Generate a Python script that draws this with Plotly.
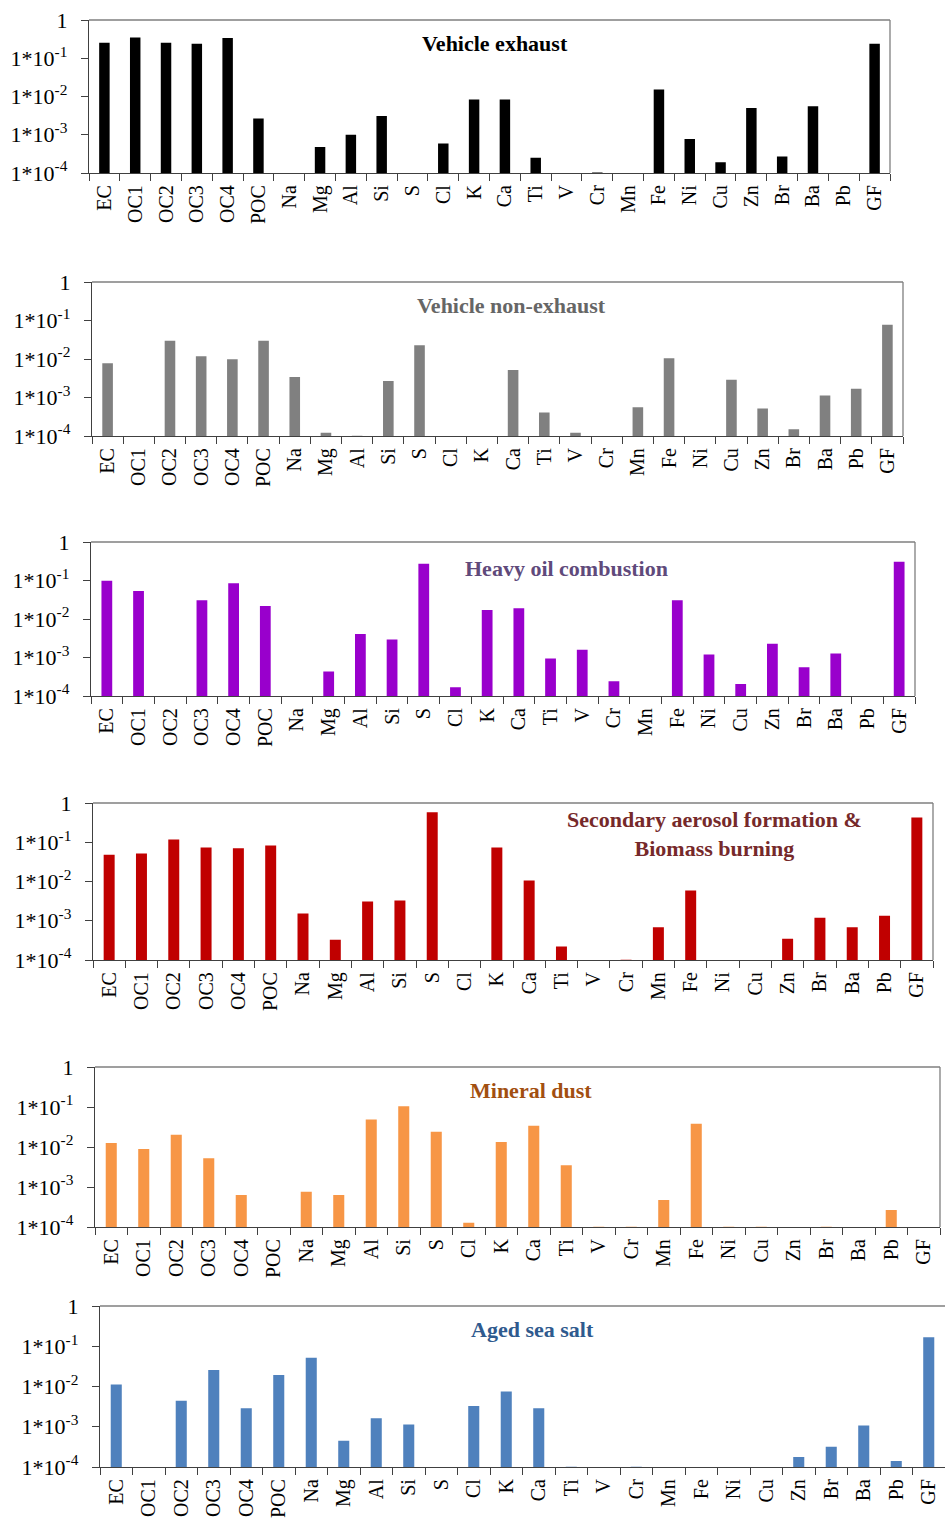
import plotly.graph_objects as go

# Species on the x axis (same for every source profile)
species = ["EC", "OC1", "OC2", "OC3", "OC4", "POC", "Na", "Mg", "Al", "Si", "S", "Cl",
           "K", "Ca", "Ti", "V", "Cr", "Mn", "Fe", "Ni", "Cu", "Zn", "Br", "Ba", "Pb", "GF"]

# Source profile values (mass fraction); None = not present
vehicle_exhaust = [0.255, 0.35, 0.255, 0.24, 0.34, 0.00267, None, 4.8e-4, 1.0e-3, 3.1e-3,
                   None, 5.9e-4, 8.4e-3, 8.4e-3, 2.5e-4, None, 1.03e-4, None, 0.0153, 7.7e-4,
                   1.9e-4, 5.0e-3, 2.7e-4, 5.6e-3, None, 0.24]
vehicle_non_exhaust = [7.7e-3, None, 0.030, 0.0117, 9.8e-3, 0.030, 3.4e-3, 1.22e-4, 1.02e-4, 2.7e-3,
                       0.0226, None, None, 5.2e-3, 4.1e-4, 1.22e-4, None, 5.6e-4, 0.0104, None,
                       2.9e-3, 5.2e-4, 1.5e-4, 1.12e-3, 1.7e-3, 0.078]
heavy_oil = [0.098, 0.053, None, 0.0307, 0.085, 0.0219, None, 4.3e-4, 4.1e-3, 2.95e-3,
             0.272, 1.7e-4, 0.0172, 0.019, 9.4e-4, 1.6e-3, 2.4e-4, None, 0.0307, 1.2e-3,
             2.06e-4, 2.27e-3, 5.6e-4, 1.27e-3, None, 0.307]
secondary_biomass = [0.048, 0.052, 0.118, 0.074, 0.070, 0.083, 1.52e-3, 3.3e-4, 3.09e-3, 3.27e-3,
                     0.578, None, 0.074, 0.0106, 2.2e-4, None, 1.02e-4, 6.8e-4, 5.9e-3, None,
                     None, 3.5e-4, 1.2e-3, 6.8e-4, 1.35e-3, 0.43]
mineral_dust = [0.0126, 8.9e-3, 0.0203, 5.2e-3, 6.3e-4, None, 7.6e-4, 6.3e-4, 0.049, 0.104,
                0.0242, 1.28e-4, 0.0133, 0.034, 3.5e-3, 1.02e-4, 1.02e-4, 4.7e-4, 0.038, 1.02e-4,
                1.02e-4, None, 1.02e-4, None, 2.66e-4, None]
aged_sea_salt = [0.0112, None, 4.4e-3, 0.0256, 2.9e-3, 0.0192, 0.052, 4.5e-4, 1.62e-3, 1.14e-3,
                 None, 3.3e-3, 7.5e-3, 2.9e-3, 1.02e-4, None, 1.02e-4, None, None, None,
                 None, 1.78e-4, 3.2e-4, 1.08e-3, 1.41e-4, 0.168]

# Log-axis ticks
tick_vals = [1e-4, 1e-3, 1e-2, 1e-1, 1]
tick_text = ["1*10<sup>-4</sup>", "1*10<sup>-3</sup>", "1*10<sup>-2</sup>",
             "1*10<sup>-1</sup>", "1"]

W, H = 945, 1524
FONT = "Liberation Serif"

panels = [
    # values, bar colour, title, title colour, plot box (px: left, right, top, bottom), title centre (px)
    (vehicle_exhaust, "#000000", "Vehicle exhaust", "#000000", (89, 890, 20, 173), (495, 43)),
    (vehicle_non_exhaust, "#808080", "Vehicle non-exhaust", "#666666", (92, 903, 282, 436), (511, 305)),
    (heavy_oil, "#9900CC", "Heavy oil combustion", "#604A7B", (91, 915, 542, 696), (566, 568)),
    (secondary_biomass, "#C00000", "Secondary aerosol formation &amp;<br>Biomass burning", "#76292A",
     (93, 933, 803, 960), (714, 834)),
    (mineral_dust, "#F79646", "Mineral dust", "#A24F10", (95, 940, 1067, 1227), (531, 1090)),
    (aged_sea_salt, "#4F81BD", "Aged sea salt", "#2F5A8E", (100, 945, 1306, 1467), (532, 1329)),
]

fig = go.Figure()
layout = dict(
    width=W, height=H, margin=dict(l=0, r=0, t=0, b=0, autoexpand=False),
    paper_bgcolor="white", plot_bgcolor="white", showlegend=False,
    font=dict(family=FONT, size=20, color="#000000"),
)
annotations = []
shapes = []

for i, (vals, color, title, tcolor, box, tpos) in enumerate(panels, start=1):
    left, right, top, bottom = box
    xa = "x" if i == 1 else f"x{i}"
    ya = "y" if i == 1 else f"y{i}"
    fig.add_trace(go.Bar(x=species, y=vals, marker=dict(color=color, line=dict(width=0)),
                         xaxis=xa, yaxis=ya, width=0.34))
    xkey = "xaxis" if i == 1 else f"xaxis{i}"
    ykey = "yaxis" if i == 1 else f"yaxis{i}"
    layout[xkey] = dict(
        domain=[left / W, min(right / W, 1.0)], anchor=ya, type="category",
        tickangle=-90, tickson="boundaries", ticks="outside", ticklen=7,
        tickcolor="#404040", tickwidth=1.3, showline=True, linecolor="#404040", linewidth=1.3,
        showgrid=False, automargin=False, ticklabelstandoff=3,
        tickfont=dict(family=FONT, size=20, color="#000000"),
        range=[-0.5, len(species) - 0.5],
    )
    layout[ykey] = dict(
        domain=[1 - bottom / H, 1 - top / H], anchor=xa, type="log", range=[-4, 0],
        tickvals=tick_vals, ticktext=tick_text, ticks="outside", ticklen=7,
        tickcolor="#404040", tickwidth=1.3, showline=True, linecolor="#404040", linewidth=1.3,
        showgrid=False, zeroline=False, automargin=False, ticklabelstandoff=9,
        tickfont=dict(family=FONT, size=22, color="#000000"),
    )
    # light frame on the top and right sides of each panel
    shapes.append(dict(type="line", xref="paper", yref="paper",
                       x0=left / W, x1=min(right / W, 1.0), y0=1 - top / H, y1=1 - top / H,
                       line=dict(color="#7F7F7F", width=1.3)))
    if right < W:
        shapes.append(dict(type="line", xref="paper", yref="paper",
                           x0=right / W, x1=right / W, y0=1 - top / H, y1=1 - bottom / H,
                           line=dict(color="#7F7F7F", width=1.3)))
    annotations.append(dict(
        text=f"<b>{title}</b>", x=tpos[0] / W, y=1 - tpos[1] / H, xref="paper", yref="paper",
        showarrow=False, xanchor="center", yanchor="middle",
        font=dict(family=FONT, size=22, color=tcolor), align="center",
    ))

layout["annotations"] = annotations
layout["shapes"] = shapes
fig.update_layout(**layout)
fig.write_html("out.html")
